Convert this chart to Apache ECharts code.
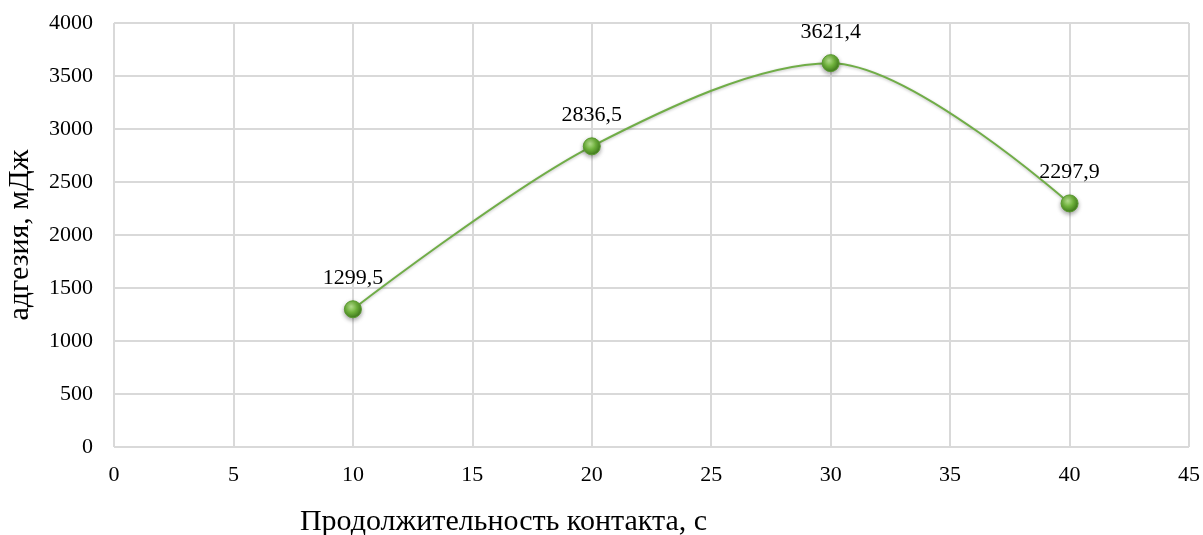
<!DOCTYPE html>
<html><head><meta charset="utf-8">
<script src="https://cdn.jsdelivr.net/npm/echarts@6/dist/echarts.min.js"></script>
<style>html,body{margin:0;padding:0;background:#fff}#c{width:1203px;height:535px}</style>
</head><body><div id="c"></div>
<script>
const xValues = [10, 20, 30, 40];
const yValues = [1299.5, 2836.5, 3621.4, 2297.9];
const labels = ['1299,5', '2836,5', '3621,4', '2297,9'];
const xTitle = 'Продолжительность контакта, с';
const yTitle = 'адгезия, мДж';

const font = '"Liberation Serif", "Times New Roman", serif';
const chart = echarts.init(document.getElementById('c'), null, {renderer: 'canvas'});
chart.setOption({
  animation: false,
  backgroundColor: '#fff',
  grid: {left: 114, right: 14, top: 23, bottom: 88, containLabel: false, outerBoundsMode: 'none'},
  xAxis: {
    type: 'value', min: 0, max: 45, interval: 5,
    axisLine: {show: false}, axisTick: {show: false},
    splitLine: {show: true, lineStyle: {color: '#d9d9d9', width: 2}},
    axisLabel: {fontFamily: font, fontSize: 22, color: '#000', margin: 17, formatter: v => String(v)},
    name: xTitle, nameLocation: 'middle', nameGap: 60,
    nameTextStyle: {fontFamily: font, fontSize: 30, color: '#000', padding: [0, 296, 0, 0]}
  },
  yAxis: {
    type: 'value', min: 0, max: 4000, interval: 500,
    axisLine: {show: false}, axisTick: {show: false},
    splitLine: {show: true, lineStyle: {color: '#d9d9d9', width: 2}},
    axisLabel: {fontFamily: font, fontSize: 22, color: '#000', margin: 21, formatter: v => String(v)},
    name: yTitle, nameLocation: 'middle', nameGap: 79, nameRotate: 90,
    nameTextStyle: {fontFamily: font, fontSize: 30, color: '#000'}
  },
  series: [{
    type: 'line',
    data: xValues.map((x, i) => [x, yValues[i]]),
    smooth: 0.32,
    lineStyle: {color: '#70ad47', width: 2, shadowColor: 'rgba(0,0,0,0.25)', shadowBlur: 3, shadowOffsetY: 1},
    symbol: 'circle', symbolSize: 17,
    itemStyle: {
      color: new echarts.graphic.RadialGradient(0.4, 0.35, 0.65, [
        {offset: 0, color: '#b6e08f'},
        {offset: 0.5, color: '#6fb23c'},
        {offset: 1, color: '#3f7a1c'}
      ]),
      borderColor: '#5a9a30', borderWidth: 1,
      shadowColor: 'rgba(0,0,0,0.35)', shadowBlur: 4, shadowOffsetY: 2
    },
    label: {
      show: true, position: 'top', distance: 11,
      fontFamily: font, fontSize: 22, color: '#000',
      formatter: p => labels[p.dataIndex]
    }
  }]
});
</script></body></html>
